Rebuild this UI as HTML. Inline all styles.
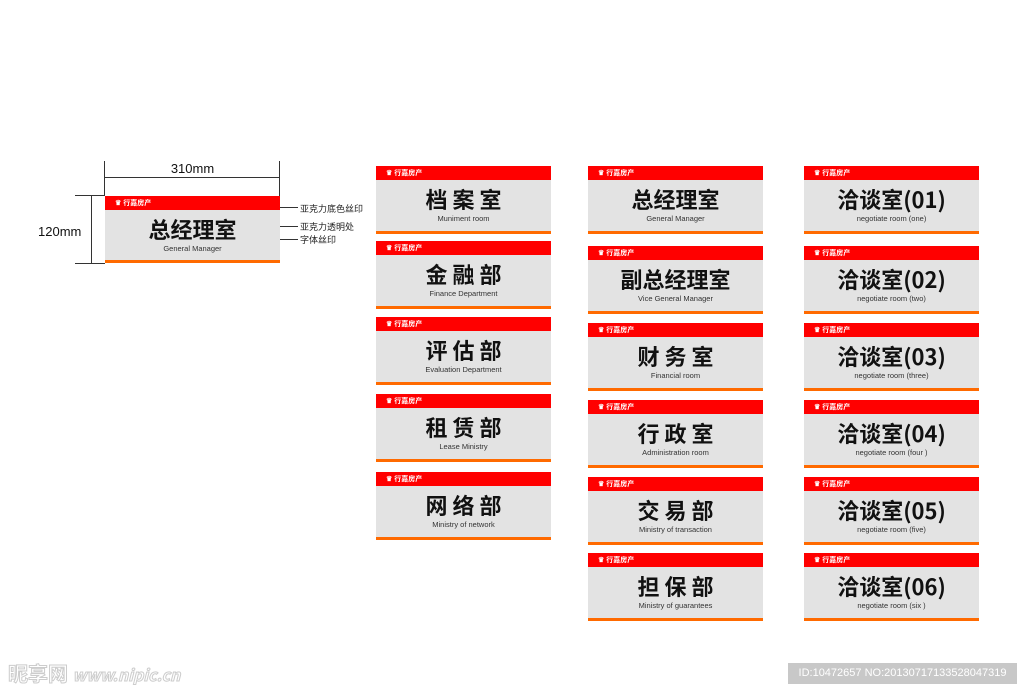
<!DOCTYPE html>
<html><head><meta charset="utf-8"><style>
body{margin:0;width:1024px;height:693px;background:#fff;position:relative;overflow:hidden;font-family:"Liberation Sans","Noto Sans CJK SC",sans-serif}
.s{position:absolute;width:175px;height:68px;background:#e3e3e3}
.s .r{position:absolute;left:0;top:0;width:100%;height:14px;background:#f00}
.s .r span{position:absolute;left:10px;top:2px;color:#fff;font-size:7px;font-weight:bold;white-space:nowrap}
.s .o{position:absolute;left:0;bottom:0;width:100%;height:3px;background:#ff6a00}
.s .t{position:absolute;left:0;width:100%;top:19px;text-align:center;font-family:"Noto Sans CJK SC",sans-serif;font-weight:bold;font-size:22px;line-height:28px;color:#111;white-space:nowrap}
.s .t.w{letter-spacing:5px;text-indent:5px}
.s .e{position:absolute;left:0;width:100%;top:48px;text-align:center;font-size:7.5px;color:#333;white-space:nowrap}
.l{position:absolute;background:#333}
.lab{position:absolute;font-family:"Noto Sans CJK SC",sans-serif;font-size:9px;color:#222;white-space:nowrap}
</style></head><body>
<!-- dimension lines -->
<div class="l" style="left:104px;top:161px;width:1px;height:35px"></div>
<div class="l" style="left:279px;top:161px;width:1px;height:35px"></div>
<div class="l" style="left:105px;top:177px;width:174px;height:1px"></div>
<div style="position:absolute;left:105px;top:161px;width:175px;text-align:center;font-size:13px;color:#111">310mm</div>
<div class="l" style="left:75px;top:195px;width:30px;height:1px"></div>
<div class="l" style="left:75px;top:263px;width:30px;height:1px"></div>
<div class="l" style="left:91px;top:195px;width:1px;height:68px"></div>
<div style="position:absolute;left:38px;top:224px;font-size:13px;color:#111">120mm</div>
<div class="l" style="left:270px;top:207px;width:28px;height:1px"></div>
<div class="l" style="left:270px;top:226px;width:28px;height:1px"></div>
<div class="l" style="left:270px;top:239px;width:28px;height:1px"></div>
<div class="lab" style="left:300px;top:202px">亚克力底色丝印</div>
<div class="lab" style="left:300px;top:220px">亚克力透明处</div>
<div class="lab" style="left:300px;top:233px">字体丝印</div>

<div class="s" style="left:105px;top:196px;height:67px"><div class="r"><span>♛ 行嘉房产</span></div><div class="t">总经理室</div><div class="e">General Manager</div><div class="o"></div></div>

<div class="s" style="left:376px;top:166px"><div class="r"><span>♛ 行嘉房产</span></div><div class="t w">档案室</div><div class="e">Muniment room</div><div class="o"></div></div>
<div class="s" style="left:376px;top:241px"><div class="r"><span>♛ 行嘉房产</span></div><div class="t w">金融部</div><div class="e">Finance Department</div><div class="o"></div></div>
<div class="s" style="left:376px;top:317px"><div class="r"><span>♛ 行嘉房产</span></div><div class="t w">评估部</div><div class="e">Evaluation Department</div><div class="o"></div></div>
<div class="s" style="left:376px;top:394px"><div class="r"><span>♛ 行嘉房产</span></div><div class="t w">租赁部</div><div class="e">Lease Ministry</div><div class="o"></div></div>
<div class="s" style="left:376px;top:472px"><div class="r"><span>♛ 行嘉房产</span></div><div class="t w">网络部</div><div class="e">Ministry of network</div><div class="o"></div></div>

<div class="s" style="left:588px;top:166px"><div class="r"><span>♛ 行嘉房产</span></div><div class="t">总经理室</div><div class="e">General Manager</div><div class="o"></div></div>
<div class="s" style="left:588px;top:246px"><div class="r"><span>♛ 行嘉房产</span></div><div class="t">副总经理室</div><div class="e">Vice General Manager</div><div class="o"></div></div>
<div class="s" style="left:588px;top:323px"><div class="r"><span>♛ 行嘉房产</span></div><div class="t w">财务室</div><div class="e">Financial room</div><div class="o"></div></div>
<div class="s" style="left:588px;top:400px"><div class="r"><span>♛ 行嘉房产</span></div><div class="t w">行政室</div><div class="e">Administration room</div><div class="o"></div></div>
<div class="s" style="left:588px;top:477px"><div class="r"><span>♛ 行嘉房产</span></div><div class="t w">交易部</div><div class="e">Ministry of transaction</div><div class="o"></div></div>
<div class="s" style="left:588px;top:553px"><div class="r"><span>♛ 行嘉房产</span></div><div class="t w">担保部</div><div class="e">Ministry of guarantees</div><div class="o"></div></div>

<div class="s" style="left:804px;top:166px"><div class="r"><span>♛ 行嘉房产</span></div><div class="t">洽谈室(01)</div><div class="e">negotiate room (one)</div><div class="o"></div></div>
<div class="s" style="left:804px;top:246px"><div class="r"><span>♛ 行嘉房产</span></div><div class="t">洽谈室(02)</div><div class="e">negotiate room (two)</div><div class="o"></div></div>
<div class="s" style="left:804px;top:323px"><div class="r"><span>♛ 行嘉房产</span></div><div class="t">洽谈室(03)</div><div class="e">negotiate room (three)</div><div class="o"></div></div>
<div class="s" style="left:804px;top:400px"><div class="r"><span>♛ 行嘉房产</span></div><div class="t">洽谈室(04)</div><div class="e">negotiate room (four )</div><div class="o"></div></div>
<div class="s" style="left:804px;top:477px"><div class="r"><span>♛ 行嘉房产</span></div><div class="t">洽谈室(05)</div><div class="e">negotiate room (five)</div><div class="o"></div></div>
<div class="s" style="left:804px;top:553px"><div class="r"><span>♛ 行嘉房产</span></div><div class="t">洽谈室(06)</div><div class="e">negotiate room (six )</div><div class="o"></div></div>

<div style="position:absolute;left:8px;top:658px;font-family:'Noto Sans CJK SC',sans-serif;font-size:20px;font-weight:bold;color:#fff;-webkit-text-stroke:1px #ccc;white-space:nowrap">昵享网 <span style="font-size:16px;font-style:italic">www.nipic.cn</span></div>
<div style="position:absolute;left:788px;top:663px;width:229px;height:21px;background:#c8c8c8;color:#fff;font-size:11px;line-height:21px;text-align:center;white-space:nowrap">ID:10472657 NO:20130717133528047319</div>
</body></html>
